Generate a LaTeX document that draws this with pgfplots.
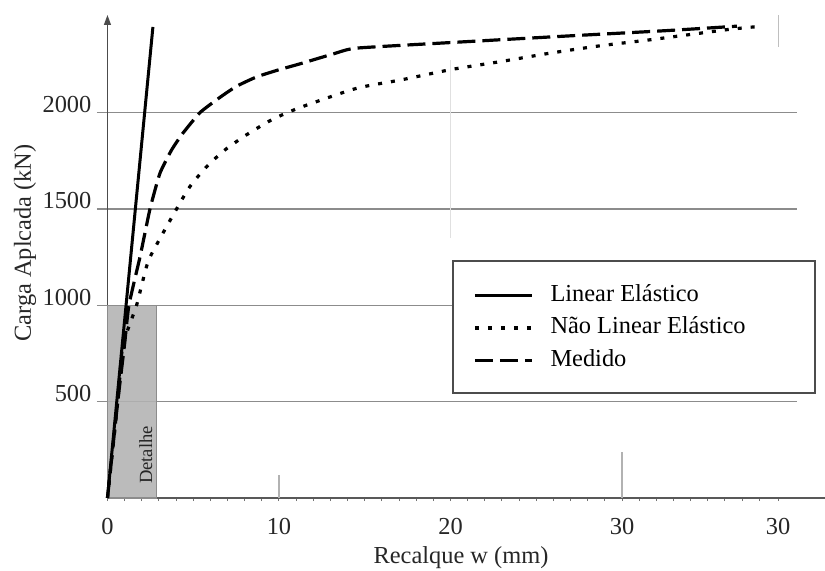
\documentclass[border=0pt]{standalone}
\usepackage{fontspec}
\setmainfont{Liberation Serif}
\usepackage{pgfplots}
\pgfplotsset{compat=1.18}
\usetikzlibrary{arrows.meta}
\begin{document}
\begin{tikzpicture}[font=\fontsize{12.2}{14}\selectfont]
\path[use as bounding box] (-53.75pt,-36pt) rectangle (358.75pt,249pt);
\begin{axis}[
  at={(-5.25pt,0pt)}, anchor=south west,
  scale only axis, width=350pt, height=241.5pt,
  xmin=-0.61, xmax=40.2, ymin=0, ymax=2506,
  clip=false,
  axis x line*=bottom, axis y line*=middle,
  x axis line style={draw=black!65, line width=0.6pt, -, shorten <=5.25pt, shorten >=-14pt},
  y axis line style={draw=black!70, line width=0.6pt, -{Triangle[length=5pt,width=3.5pt]}},
  xtick={0,1,...,38,39.1},
  xticklabels={0,,,,,,,,,,10,,,,,,,,,,20,,,,,,,,,,30,,,,,,,,,30},
  ytick={500,1000,1500,2000}, yticklabels={500,1000,1500,2000},
  ymajorgrids, grid style={draw=black!45, line width=0.7pt},
  xtick align=outside,
  major tick length=1.6pt,
  x tick style={draw=black!55, line width=0.5pt},
  y tick style={draw=none},
  xticklabel style={anchor=base, yshift=-16.4pt, text=black!85},
  yticklabel style={anchor=base east, xshift=-4.5pt, text=black!85},
  xlabel={Recalque w (mm)},
  ylabel={Carga Aplcada (kN)},
  xlabel style={at={(axis description cs:0.52,-0.1366)}, anchor=base, text=black!85},
  ylabel style={at={(axis description cs:-0.1029,0.528)}, anchor=center, rotate=0, text=black!85},
  legend style={at={(axis description cs:0.537,0.443)}, anchor=north west, draw=none, fill=none,
    inner sep=0pt, row sep=5.25pt, column sep=8.5pt,
    nodes={text height=8.5pt, text depth=2.5pt, inner sep=0pt}},
  legend cell align=left,
  legend image code/.code={\draw[#1] (0pt,0pt) -- (28.5pt,0pt);},
]
% faint scan gridline remnants
\draw[black!12, line width=0.6pt] (axis cs:20,1350) -- (axis cs:20,2270);
\draw[black!30, line width=0.6pt] (axis cs:30,0) -- (axis cs:30,240);
\draw[black!30, line width=0.6pt] (axis cs:10,0) -- (axis cs:10,120);
\draw[black!25, line width=0.6pt] (axis cs:39.1,2340) -- (axis cs:39.1,2506);

% Detalhe region
\addplot[fill=black!30, draw=black!45, line width=0.6pt, fill opacity=0.88, forget plot]
  coordinates {(0,1000) (2.86,1000)} \closedcycle;
\node[rotate=90, font=\fontsize{9.3}{11}\selectfont, text=black!85] at (axis cs:2.24,223) {Detalhe};

% Linear elastico
\addplot[black, line width=1.5pt] coordinates {(0,0) (2.65,2444)};
\addlegendentry{Linear Elástico}

% Nao linear elastico
\addplot[black, line width=1.6pt, dash pattern=on 2pt off 4.5pt, smooth, tension=0.4] coordinates {
(0,0) (0.6,500) (0.83,750) (1.0,820) (1.21,880) (1.5,950) (1.7,1000) (2.34,1219) (2.96,1330)
(4.03,1500) (4.8,1615) (5.78,1719) (6.85,1806) (8.1,1884) (9.57,1962) (11.2,2025) (14.5,2125)
(17.1,2169) (20.1,2224) (22.9,2264) (25.8,2308) (28.7,2346) (31.6,2377) (34.5,2411) (36.3,2432) (37.9,2446)};
\addlegendentry{Não Linear Elástico}

% Medido
\addplot[black, line width=1.6pt, dash pattern=on 9pt off 3.5pt, smooth, tension=0.3] coordinates {
(0,0) (0.6,500) (1.0,800) (1.25,1000) (1.9,1252) (2.48,1500) (3.06,1685) (3.74,1806) (4.4,1893)
(5.4,2000) (6.5,2075) (7.5,2135) (8.7,2185) (10,2222) (11.2,2252) (13.2,2305) (14.5,2334)
(20,2363) (26.8,2397) (32.6,2425) (36.7,2448)};
\addlegendentry{Medido}

\draw[draw=black!70, line width=0.8pt, fill=white] (axis cs:20.15,545) rectangle (axis cs:41.25,1230);
\end{axis}
\end{tikzpicture}
\end{document}
